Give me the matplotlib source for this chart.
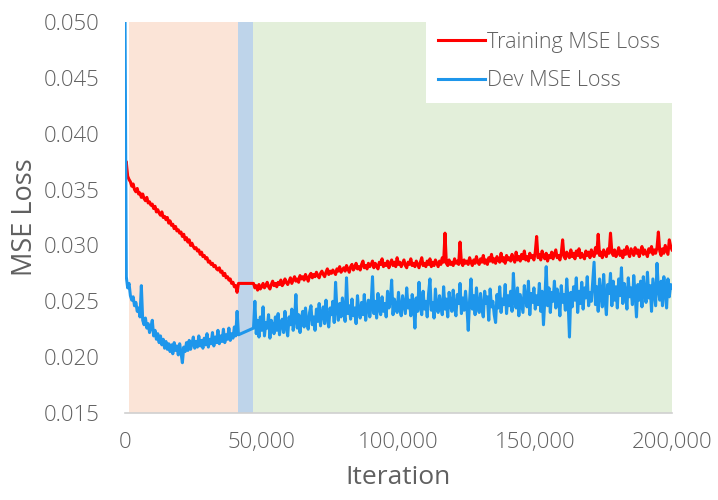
import matplotlib
matplotlib.use("Agg")
import matplotlib.pyplot as plt
import numpy as np
from matplotlib.ticker import FuncFormatter

# logged every 500 iterations; nothing logged between 41,500 and 47,000
iterations = np.concatenate([np.arange(0, 42000, 500), np.arange(47000, 200001, 500)])

train_loss = [
    # 0 - 41,500
    0.0368, 0.0375, 0.0362, 0.0359, 0.0357, 0.0353, 0.0355, 0.0350, 0.0348, 0.0351,
    0.0346, 0.0347, 0.0343, 0.0346, 0.0342, 0.0340, 0.0343, 0.0338, 0.0339, 0.0336,
    0.0337, 0.0333, 0.0335, 0.0330, 0.0332, 0.0329, 0.0327, 0.0330, 0.0325, 0.0326,
    0.0323, 0.0325, 0.0320, 0.0322, 0.0318, 0.0319, 0.0315, 0.0317, 0.0313, 0.0314,
    0.0311, 0.0312, 0.0308, 0.0310, 0.0305, 0.0307, 0.0303, 0.0305, 0.0300, 0.0302,
    0.0299, 0.0297, 0.0298, 0.0295, 0.0296, 0.0292, 0.0294, 0.0290, 0.0291, 0.0288,
    0.0289, 0.0285, 0.0286, 0.0283, 0.0284, 0.0281, 0.0282, 0.0279, 0.0278, 0.0280,
    0.0276, 0.0277, 0.0273, 0.0275, 0.0271, 0.0272, 0.0269, 0.0270, 0.0266, 0.0267,
    0.0263, 0.0264, 0.0258, 0.0266,
    # 47,000 - 50,000
    0.0266, 0.0262, 0.0264, 0.0260, 0.0265, 0.0261, 0.0263,
    # 50,500 - 200,000
    0.0266, 0.0262, 0.0264, 0.0267, 0.0263, 0.0261, 0.0265, 0.0268, 0.0264, 0.0266,
    0.0263, 0.0267, 0.0265, 0.0269, 0.0264, 0.0266, 0.0270, 0.0267, 0.0265, 0.0268,
    0.0271, 0.0266, 0.0269, 0.0272, 0.0268, 0.0270, 0.0267, 0.0273, 0.0270, 0.0272,
    0.0269, 0.0274, 0.0271, 0.0268, 0.0273, 0.0275, 0.0271, 0.0274, 0.0272, 0.0276,
    0.0273, 0.0271, 0.0275, 0.0277, 0.0274, 0.0272, 0.0276, 0.0279, 0.0274, 0.0277,
    0.0275, 0.0278, 0.0276, 0.0274, 0.0279, 0.0277, 0.0281, 0.0276, 0.0278, 0.0280,
    0.0277, 0.0282, 0.0279, 0.0276, 0.0281, 0.0283, 0.0278, 0.0280, 0.0284, 0.0279,
    0.0281, 0.0278, 0.0283, 0.0286, 0.0280, 0.0282, 0.0279, 0.0284, 0.0281, 0.0283,
    0.0286, 0.0280, 0.0284, 0.0282, 0.0279, 0.0285, 0.0283, 0.0288, 0.0281, 0.0284,
    0.0282, 0.0286, 0.0280, 0.0284, 0.0287, 0.0282, 0.0285, 0.0281, 0.0289, 0.0283,
    0.0285, 0.0281, 0.0284, 0.0287, 0.0282, 0.0280, 0.0285, 0.0283, 0.0288, 0.0282,
    0.0284, 0.0281, 0.0286, 0.0283, 0.0280, 0.0285, 0.0289, 0.0282, 0.0284, 0.0281,
    0.0286, 0.0283, 0.0288, 0.0281, 0.0285, 0.0282, 0.0287, 0.0284, 0.0281, 0.0286,
    0.0283, 0.0289, 0.0285, 0.0311, 0.0284, 0.0282, 0.0287, 0.0283, 0.0285, 0.0282,
    0.0288, 0.0284, 0.0286, 0.0283, 0.0303, 0.0285, 0.0282, 0.0287, 0.0284, 0.0286,
    0.0283, 0.0289, 0.0285, 0.0282, 0.0287, 0.0284, 0.0290, 0.0285, 0.0283, 0.0288,
    0.0285, 0.0291, 0.0284, 0.0287, 0.0283, 0.0289, 0.0286, 0.0292, 0.0285, 0.0288,
    0.0284, 0.0290, 0.0287, 0.0285, 0.0293, 0.0286, 0.0289, 0.0284, 0.0291, 0.0287,
    0.0289, 0.0286, 0.0292, 0.0288, 0.0285, 0.0294, 0.0287, 0.0290, 0.0286, 0.0292,
    0.0288, 0.0295, 0.0287, 0.0290, 0.0286, 0.0293, 0.0289, 0.0291, 0.0287, 0.0294,
    0.0308, 0.0289, 0.0292, 0.0287, 0.0295, 0.0290, 0.0288, 0.0293, 0.0286, 0.0291,
    0.0289, 0.0294, 0.0288, 0.0292, 0.0296, 0.0289, 0.0291, 0.0287, 0.0293, 0.0305,
    0.0290, 0.0288, 0.0294, 0.0291, 0.0289, 0.0296, 0.0290, 0.0293, 0.0288, 0.0295,
    0.0291, 0.0297, 0.0289, 0.0293, 0.0290, 0.0288, 0.0295, 0.0291, 0.0294, 0.0289,
    0.0296, 0.0292, 0.0290, 0.0298, 0.0293, 0.0310, 0.0291, 0.0294, 0.0289, 0.0296,
    0.0292, 0.0290, 0.0297, 0.0293, 0.0311, 0.0294, 0.0291, 0.0296, 0.0290, 0.0293,
    0.0298, 0.0291, 0.0295, 0.0289, 0.0296, 0.0292, 0.0299, 0.0293, 0.0290, 0.0297,
    0.0294, 0.0291, 0.0298, 0.0293, 0.0296, 0.0290, 0.0295, 0.0299, 0.0292, 0.0296,
    0.0293, 0.0290, 0.0297, 0.0294, 0.0299, 0.0292, 0.0296, 0.0293, 0.0298, 0.0312,
    0.0295, 0.0291, 0.0297, 0.0293, 0.0300, 0.0296, 0.0292, 0.0305, 0.0299, 0.0296,
]

dev_loss = [
    # 0 - 41,500
    0.0520, 0.0272, 0.0262, 0.0266, 0.0255, 0.0251, 0.0254, 0.0246, 0.0249, 0.0241,
    0.0244, 0.0236, 0.0264, 0.0233, 0.0229, 0.0235, 0.0226, 0.0230, 0.0222, 0.0227,
    0.0233, 0.0219, 0.0224, 0.0216, 0.0221, 0.0213, 0.0219, 0.0211, 0.0216, 0.0208,
    0.0214, 0.0207, 0.0212, 0.0205, 0.0211, 0.0203, 0.0213, 0.0206, 0.0210, 0.0202,
    0.0212, 0.0204, 0.0195, 0.0209, 0.0205, 0.0213, 0.0206, 0.0215, 0.0207, 0.0212,
    0.0218, 0.0208, 0.0214, 0.0209, 0.0219, 0.0210, 0.0215, 0.0208, 0.0217, 0.0211,
    0.0221, 0.0209, 0.0216, 0.0212, 0.0222, 0.0210, 0.0218, 0.0213, 0.0224, 0.0212,
    0.0219, 0.0214, 0.0225, 0.0213, 0.0220, 0.0216, 0.0226, 0.0215, 0.0221, 0.0217,
    0.0227, 0.0219, 0.0241, 0.0220,
    # 47,000 - 50,000
    0.0226, 0.0250, 0.0221, 0.0233, 0.0218, 0.0236, 0.0224,
    # 50,500 - 200,000
    0.0245, 0.0219, 0.0231, 0.0226, 0.0238, 0.0217, 0.0233, 0.0228, 0.0221, 0.0236,
    0.0224, 0.0239, 0.0220, 0.0230, 0.0234, 0.0222, 0.0241, 0.0227, 0.0219, 0.0236,
    0.0229, 0.0243, 0.0224, 0.0233, 0.0256, 0.0226, 0.0238, 0.0222, 0.0235, 0.0241,
    0.0227, 0.0244, 0.0231, 0.0225, 0.0240, 0.0246, 0.0229, 0.0236, 0.0224, 0.0243,
    0.0232, 0.0248, 0.0228, 0.0239, 0.0245, 0.0230, 0.0251, 0.0235, 0.0227, 0.0244,
    0.0238, 0.0250, 0.0231, 0.0267, 0.0242, 0.0233, 0.0248, 0.0236, 0.0253, 0.0240,
    0.0232, 0.0271, 0.0239, 0.0246, 0.0234, 0.0252, 0.0237, 0.0244, 0.0230, 0.0255,
    0.0241, 0.0235, 0.0249, 0.0238, 0.0256, 0.0233, 0.0245, 0.0251, 0.0236, 0.0247,
    0.0272, 0.0239, 0.0250, 0.0235, 0.0257, 0.0243, 0.0238, 0.0254, 0.0241, 0.0248,
    0.0236, 0.0259, 0.0244, 0.0250, 0.0269, 0.0238, 0.0252, 0.0245, 0.0240, 0.0258,
    0.0243, 0.0237, 0.0255, 0.0247, 0.0239, 0.0262, 0.0244, 0.0251, 0.0237, 0.0256,
    0.0248, 0.0226, 0.0253, 0.0241, 0.0267, 0.0245, 0.0238, 0.0259, 0.0243, 0.0250,
    0.0236, 0.0257, 0.0270, 0.0242, 0.0249, 0.0235, 0.0261, 0.0244, 0.0240, 0.0255,
    0.0246, 0.0238, 0.0263, 0.0243, 0.0252, 0.0236, 0.0258, 0.0247, 0.0241, 0.0260,
    0.0244, 0.0237, 0.0256, 0.0248, 0.0266, 0.0239, 0.0253, 0.0242, 0.0259, 0.0245,
    0.0224, 0.0251, 0.0270, 0.0243, 0.0255, 0.0238, 0.0262, 0.0246, 0.0240, 0.0257,
    0.0243, 0.0236, 0.0259, 0.0248, 0.0254, 0.0233, 0.0261, 0.0245, 0.0250, 0.0238,
    0.0231, 0.0256, 0.0244, 0.0263, 0.0240, 0.0252, 0.0247, 0.0265, 0.0239, 0.0255,
    0.0246, 0.0259, 0.0241, 0.0275, 0.0250, 0.0244, 0.0262, 0.0237, 0.0256, 0.0248,
    0.0240, 0.0264, 0.0251, 0.0245, 0.0268, 0.0238, 0.0257, 0.0249, 0.0262, 0.0243,
    0.0255, 0.0247, 0.0266, 0.0241, 0.0259, 0.0229, 0.0252, 0.0281, 0.0246, 0.0262,
    0.0240, 0.0258, 0.0250, 0.0268, 0.0244, 0.0261, 0.0253, 0.0237, 0.0264, 0.0249,
    0.0256, 0.0242, 0.0270, 0.0250, 0.0218, 0.0258, 0.0245, 0.0263, 0.0251, 0.0271,
    0.0240, 0.0259, 0.0248, 0.0267, 0.0243, 0.0262, 0.0253, 0.0272, 0.0246, 0.0258,
    0.0250, 0.0268, 0.0285, 0.0247, 0.0263, 0.0241, 0.0270, 0.0256, 0.0245, 0.0274,
    0.0252, 0.0238, 0.0265, 0.0257, 0.0275, 0.0246, 0.0268, 0.0251, 0.0263, 0.0244,
    0.0270, 0.0255, 0.0280, 0.0248, 0.0266, 0.0259, 0.0243, 0.0271, 0.0254, 0.0262,
    0.0247, 0.0273, 0.0256, 0.0236, 0.0265, 0.0251, 0.0268, 0.0245, 0.0272, 0.0257,
    0.0249, 0.0276, 0.0253, 0.0264, 0.0241, 0.0270, 0.0258, 0.0246, 0.0284, 0.0261,
    0.0251, 0.0268, 0.0246, 0.0272, 0.0259, 0.0244, 0.0270, 0.0254, 0.0265, 0.0262,
]

# training phases shaded behind the curves
phase_edges = [1500, 41500, 46800, 200000]
phase_colors = ['#fbe4d7', '#bed4ea', '#e3efda']

y_ticks = [0.015, 0.020, 0.025, 0.030, 0.035, 0.040, 0.045, 0.050]
x_ticks = [0, 50000, 100000, 150000, 200000]

text_color = '#606060'
plt.rcParams['font.family'] = ['Open Sans', 'DejaVu Sans']
plt.rcParams['font.weight'] = 'light'

fig = plt.figure(figsize=(7.18, 5.0), dpi=100)
ax = fig.add_axes([0.174, 0.174, 0.762, 0.782])

for i in range(len(phase_colors)):
    ax.axvspan(phase_edges[i], phase_edges[i + 1], color=phase_colors[i], lw=0, zorder=0)

ax.plot(iterations, train_loss, color='#ff0000', lw=2.2, label='Training MSE Loss', zorder=2)
ax.plot(iterations, dev_loss, color='#1e96eb', lw=2.2, label='Dev MSE Loss', zorder=3)

ax.set_xlim(0, 200000)
ax.set_ylim(0.015, 0.050)
ax.set_xticks(x_ticks)
ax.set_yticks(y_ticks)
ax.xaxis.set_major_formatter(FuncFormatter(lambda v, p: f'{int(v):,}'))
ax.yaxis.set_major_formatter(FuncFormatter(lambda v, p: f'{v:.3f}'))
ax.tick_params(length=0, labelsize=16, labelcolor=text_color)
ax.tick_params(axis='y', pad=18)
ax.tick_params(axis='x', pad=14)

for side in ['top', 'right', 'left']:
    ax.spines[side].set_visible(False)
ax.spines['bottom'].set_color('#d0d0d0')
ax.spines['bottom'].set_linewidth(1.2)

ax.set_xlabel('Iteration', fontsize=19, color=text_color, labelpad=8)
ax.set_ylabel('MSE Loss', fontsize=19.5, color=text_color, labelpad=4)

leg = ax.legend(loc='upper right', bbox_to_anchor=(1.0, 1.005), borderaxespad=0,
                fontsize=15.5, frameon=True, fancybox=False, framealpha=1,
                handlelength=2.2, handletextpad=0.1, labelspacing=0.8, borderpad=0.55)
leg.get_frame().set_facecolor('white')
leg.get_frame().set_edgecolor('none')
for t in leg.get_texts():
    t.set_color(text_color)

fig.savefig('out.png', dpi=100)
